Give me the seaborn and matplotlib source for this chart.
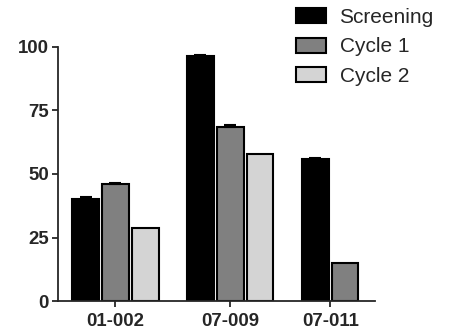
import matplotlib
matplotlib.use("Agg")
import matplotlib.pyplot as plt
import seaborn as sns
import pandas as pd
import numpy as np

# Patients and time points
patients = ["01-002", "07-009", "07-011"]
timepoints = ["Screening", "Cycle 1", "Cycle 2"]

# Mean values per time point (None = not measured)
screening = [40.3, 96.5, 55.8]
cycle1 = [46.2, 68.6, 15.1]
cycle2 = [28.9, 57.7, None]

# Upper error (SEM)
screening_err = [0.8, 0.4, 0.6]
cycle1_err = [0.4, 0.8, 0.0]
cycle2_err = [0.0, 0.0, None]

y_ticks = [0, 25, 50, 75, 100]
colors = ["#000000", "#808080", "#d4d4d4"]

series = {"Screening": (screening, screening_err),
          "Cycle 1": (cycle1, cycle1_err),
          "Cycle 2": (cycle2, cycle2_err)}

rows = []
for tp in timepoints:
    vals, errs = series[tp]
    for p, v, e in zip(patients, vals, errs):
        if v is not None:
            rows.append({"patient": p, "timepoint": tp, "value": v, "err": e})
df = pd.DataFrame(rows)

sns.set_style("ticks")
plt.rcParams["font.family"] = ["Liberation Sans", "DejaVu Sans"]

fig = plt.figure(figsize=(4.49, 3.34), dpi=100)
ax = fig.add_axes([58 / 449, 1 - 301 / 334, (375 - 58) / 449, (301 - 47) / 334])

sns.barplot(data=df, x="patient", y="value", hue="timepoint",
            order=patients, hue_order=timepoints, palette=colors,
            edgecolor="black", linewidth=1.5, width=0.78, gap=0.11,
            errorbar=None, ax=ax)

# Upper-only error bars on top of each bar
centers = {p: [] for p in patients}
for tp, cont in zip(timepoints, ax.containers):
    sub = df[df["timepoint"] == tp]
    for bar, (_, r) in zip(cont, sub.iterrows()):
        xc = bar.get_x() + bar.get_width() / 2
        centers[r["patient"]].append(xc)
        if r["err"] > 0:
            ax.errorbar(xc, bar.get_height(), yerr=[[0], [r["err"]]],
                        fmt="none", ecolor="black", elinewidth=1.5,
                        capsize=4, capthick=1.5, zorder=3)

# Category ticks sit under the middle of the bars that are present
ax.set_xticks([np.mean(centers[p]) for p in patients])
ax.set_xticklabels(patients)
ax.set_xlim(-0.5, 2.26)
ax.set_ylim(0, 100)
ax.set_yticks(y_ticks)
ax.set_xlabel("")
ax.set_ylabel("")

for s in ["top", "right"]:
    ax.spines[s].set_visible(False)
for s in ["left", "bottom"]:
    ax.spines[s].set_linewidth(1.3)
ax.tick_params(axis="both", length=4.5, width=1.3, labelsize=13.4, pad=2)
ax.tick_params(axis="x", pad=4.5)
for lab in ax.get_xticklabels() + ax.get_yticklabels():
    lab.set_fontweight("bold")

handles, labels = ax.get_legend_handles_labels()
ax.legend(handles, labels, loc="upper left",
          bbox_to_anchor=(296 / 449, 1 - 8 / 334), bbox_transform=fig.transFigure,
          frameon=False, fontsize=15, handlelength=1.44, handleheight=0.72,
          handletextpad=0.65, labelspacing=0.5, borderpad=0, borderaxespad=0)

fig.savefig("out.png", dpi=100)
